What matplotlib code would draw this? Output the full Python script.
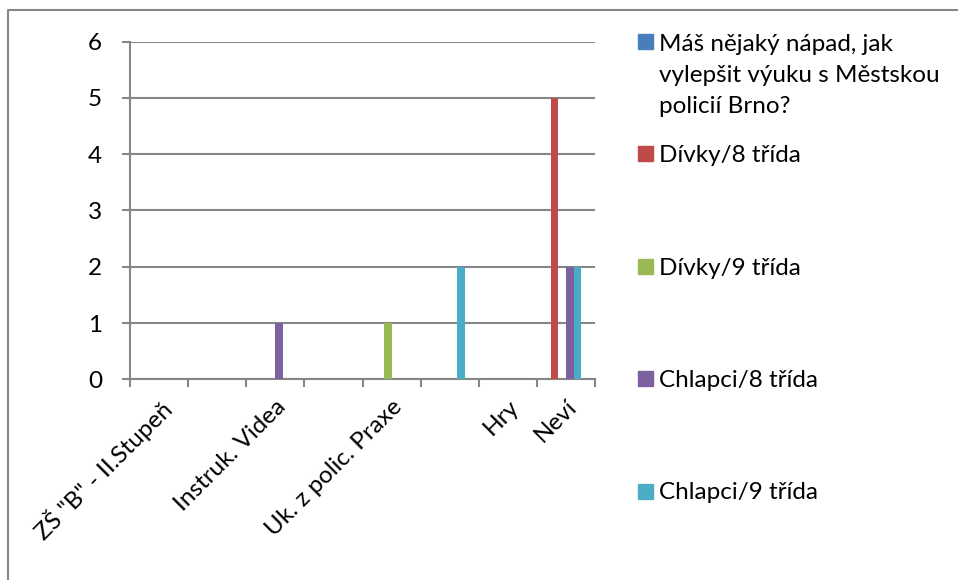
import matplotlib
matplotlib.use("Agg")
import matplotlib.pyplot as plt
from matplotlib.patches import Rectangle
from matplotlib.lines import Line2D
import numpy as np

plt.rcParams['font.family'] = ['Lato', 'DejaVu Sans']

categories = ['ZŠ "B" - II.Stupeň', '', 'Instruk. Videa', '', 'Uk. z polic. Praxe', '', 'Hry', 'Neví']
series_names = ['Máš nějaký nápad, jak\nvylepšit výuku s Městskou\npolicií Brno?',
                'Dívky/8 třída', 'Dívky/9 třída', 'Chlapci/8 třída', 'Chlapci/9 třída']
s_napad = [0, 0, 0, 0, 0, 0, 0, 0]
s_divky8 = [0, 0, 0, 0, 0, 0, 0, 5]
s_divky9 = [0, 0, 0, 0, 1, 0, 0, 0]
s_chlapci8 = [0, 0, 1, 0, 0, 0, 0, 2]
s_chlapci9 = [0, 0, 0, 0, 0, 2, 0, 2]
series_values = [s_napad, s_divky8, s_divky9, s_chlapci8, s_chlapci9]
colors = ['#4A7EBB', '#BE4B48', '#98B954', '#7D60A0', '#4BACC6']

FS = 17.5
W, H = 958, 580
fig = plt.figure(figsize=(W / 100, H / 100), dpi=100)
ax_left, ax_right = 130, 595
ax_top, ax_bottom = 41.5, 379.3
ax = fig.add_axes([ax_left / W, 1 - ax_bottom / H, (ax_right - ax_left) / W, (ax_bottom - ax_top) / H])

grey = '#868686'
n_slots = 6  # Excel layout reserves 6 bar slots per category
bw = 0.1306
x = np.arange(len(categories))
for i, (vals, c) in enumerate(zip(series_values, colors)):
    ax.bar(x + (i - (n_slots - 1) / 2) * bw, vals, width=bw, color=c,
           align='center', zorder=3, linewidth=0)

ax.set_xlim(-0.5, len(categories) - 0.5)
ax.set_ylim(0, 6)
ax.set_yticks(range(0, 7))
ax.yaxis.grid(True, color=grey, linewidth=1.5, zorder=1)
ax.set_axisbelow(True)
for s in ['top', 'right']:
    ax.spines[s].set_visible(False)
for s in ['left', 'bottom']:
    ax.spines[s].set_color(grey)
    ax.spines[s].set_linewidth(1.5)
ax.tick_params(axis='y', length=6, width=1.5, color=grey, labelsize=FS, pad=14)
ax.set_xticks(np.arange(-0.5, len(categories), 1.0))
ax.set_xticklabels([])
ax.tick_params(axis='x', which='major', length=6, width=1.5, color=grey)
ax.set_xticks(x, minor=True)
ax.set_xticklabels(categories, minor=True, rotation=45, ha='right', va='top',
                   rotation_mode='anchor', fontsize=FS)
ax.tick_params(axis='x', which='minor', length=0, pad=12)

# legend drawn manually to mimic Excel spacing (baseline of last line of each entry)
leg_base = [113, 162, 275, 387, 499]
sq_center = [41, 153, 267, 378, 491]
for name, c, yb, yc in zip(series_names, colors, leg_base, sq_center):
    fig.patches.append(Rectangle((638 / W, 1 - (yc + 7.5) / H), 15 / W, 15 / H,
                                 transform=fig.transFigure, color=c, figure=fig))
    fig.text(659 / W, 1 - yb / H, name, ha='left', va='baseline', fontsize=FS,
             linespacing=1.6, color='black')

# chart area border (top and left visible)
fig.lines.append(Line2D([8 / W, 8 / W, 1], [0, 1 - 10 / H, 1 - 10 / H], transform=fig.transFigure,
                        color=grey, linewidth=1.5, figure=fig))

fig.savefig('out.png', dpi=100)
